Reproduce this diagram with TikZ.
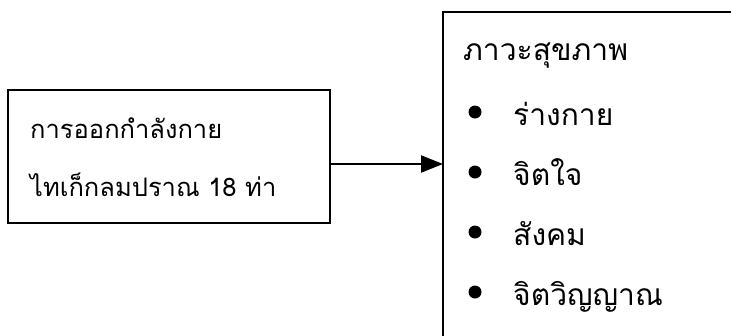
\documentclass[tikz,border=0pt]{standalone}
\usepackage{fontspec}
\newfontfamily\thaifont[Script=Thai]{Loma}
\usetikzlibrary{arrows.meta}
\begin{document}
\begin{tikzpicture}[x=1pt,y=-1pt,
  box/.style={draw, line width=2.2pt, inner sep=0pt, outer sep=0pt},
  txt/.style={anchor=base west, font=\thaifont\fontsize{25.5}{30}\selectfont, inner sep=0pt},
  rtxt/.style={txt, font=\thaifont\fontsize{30}{34}\selectfont},
  dot/.style={circle, fill, inner sep=0pt, minimum size=13pt},
  arr/.style={line width=2.2pt, -{Triangle[length=22pt,width=17pt]}}]
\useasboundingbox (0,0) rectangle (731,335);
\node[box, minimum width=322pt, minimum height=133pt, anchor=north west] (lbox) at (8,90) {};
\node[box, minimum width=320pt, minimum height=340pt, anchor=north west] (rbox) at (443,12) {};
\node[txt] (l1) at (30,138) {การออกกำลังกาย};
\node[txt] (l2) at (30,196) {ไทเก็กลมปราณ 18 ท่า};
\node[rtxt] (h) at (463,60) {ภาวะสุขภาพ};
\node[dot] (b1) at (475,112) {};
\node[dot] (b2) at (475,172) {};
\node[dot] (b3) at (475,232) {};
\node[dot] (b4) at (475,292) {};
\node[rtxt] (i1) at (513,125) {ร่างกาย};
\node[rtxt] (i2) at (513,185) {จิตใจ};
\node[rtxt] (i3) at (513,245) {สังคม};
\node[rtxt] (i4) at (513,305) {จิตวิญญาณ};
\coordinate (a1) at (330,164);
\draw[arr] (a1) -- (a1 -| rbox.west);
\end{tikzpicture}
\end{document}
